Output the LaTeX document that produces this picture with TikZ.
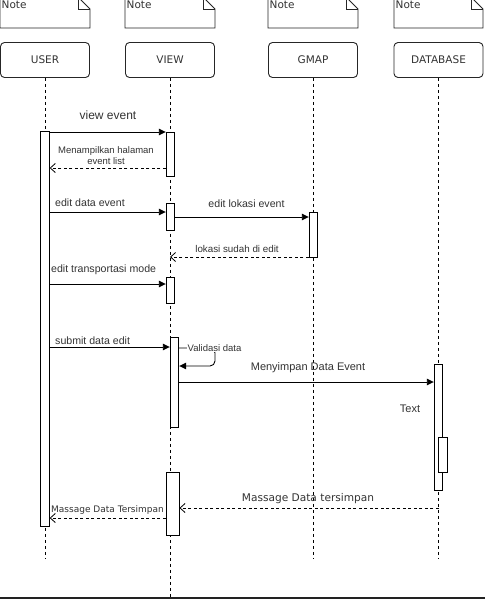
\documentclass[tikz,border=0pt]{standalone}
\usepackage{fontspec}
\setmainfont{Liberation Sans}
\newfontfamily\dvs{DejaVu Sans}
\usetikzlibrary{arrows.meta}
\definecolor{txt}{HTML}{333333}
\definecolor{band}{HTML}{222222}
\newcommand\fs[2]{\fontsize{#1}{#2}\selectfont}
\begin{document}
\begin{tikzpicture}[x=1pt,y=-1pt,
  actor/.style={draw=black!85, rounded corners=4pt, minimum width=89pt, minimum height=35pt,
     inner sep=0pt, font=\dvs\fs{10.5}{12}, text=txt, line width=0.9pt},
  act/.style={draw, fill=white, minimum width=8.5pt, inner sep=0pt, line width=0.9pt},
  life/.style={draw, line width=0.8pt, dash pattern=on 3pt off 3pt},
  msg/.style={draw, line width=0.9pt, -{Triangle[length=7pt,width=6.5pt]}},
  ret/.style={draw, line width=0.8pt, dash pattern=on 3pt off 2.5pt, -{Straight Barb[length=5pt,width=9pt,line width=0.8pt]}},
  lbl/.style={text=txt, inner sep=1pt},
  notepath/.style={draw=black!85, fill=white, line width=0.9pt}
]
\clip (0,0) rectangle (485,599);
\fill[white] (0,0) rectangle (485,599);

% notes
\foreach \l/\r/\n in {0/90/na,125/215/nb,268/358/nc,394/483/nd}{
  \path[notepath] (\l,-3) -- (\r-12,-3) -- (\r,9) -- (\r,28) -- (\l,28) -- cycle;
  \draw[black!85, line width=0.9pt] (\r-12,-3) -- (\r-12,9) -- (\r,9);
  \node[lbl, anchor=west, font=\dvs\fs{10.5}{12}] (\n) at (\l+0.5,5) {Note};
}

% actors
\node[actor] (user) at (45,60) {USER};
\node[actor] (view) at (170,60) {VIEW};
\node[actor] (gmap) at (313,60) {GMAP};
\node[actor] (db) at (438.5,60) {DATABASE};

% lifelines
\coordinate (userend) at (45,558);
\coordinate (viewend) at (170,597);
\coordinate (gmapend) at (313,558);
\coordinate (dbend) at (438.5,558);
\path[life] (user.south) -- (userend);
\path[life] (view.south) -- (viewend);
\path[life] (gmap.south) -- (gmapend);
\path[life] (db.south) -- (dbend);

% activations
\node[act, minimum height=395pt] (u1) at (45,328.5) {};
\node[act, minimum height=44pt] (v1) at (170.5,154) {};
\node[act, minimum height=27pt] (v2) at (170.5,216.5) {};
\node[act, minimum height=26pt] (v3) at (170.5,290) {};
\node[act, minimum height=90pt] (v4) at (174.5,382) {};
\node[act, minimum height=63pt, minimum width=13pt] (v5) at (172.5,503.5) {};
\node[act, minimum height=45pt] (g1) at (313.5,234.5) {};
\node[act, minimum height=126pt] (d1) at (438.5,427) {};
\node[act, minimum height=35pt] (d2) at (443,454.5) {};

% messages
\path[msg] (u1.east |- 0,132) -- (v1.west |- 0,132);
\node[lbl, font=\fs{12}{14}] (l1) at (108,115) {view event};

\path[ret] (v1.west |- 0,168) -- (u1.east |- 0,168);
\node[lbl, font=\fs{9.5}{11}, align=center] (l2) at (106,156) {Menampilkan halaman\\event list};

\path[msg] (u1.east |- 0,212) -- (v2.west |- 0,212);
\node[lbl, anchor=west, font=\fs{10.6}{12}] (l3) at (54,203) {edit data event};

\path[msg] (v2.east |- 0,217) -- (g1.west |- 0,217);
\node[lbl, font=\fs{10.6}{12}] (l4) at (246.5,204) {edit lokasi event};

\path[ret] (g1.west |- 0,257) -- (view.south |- 0,257);
\node[lbl, font=\fs{9.8}{11}] (l5) at (237,249) {lokasi sudah di edit};

\path[msg] (u1.east |- 0,284) -- (v3.west |- 0,284);
\node[lbl, anchor=west, font=\fs{10.6}{12}] (l6) at (50,270) {edit transportasi mode};

\path[msg] (u1.east |- 0,347) -- (v4.west |- 0,347);
\node[lbl, anchor=west, font=\fs{10.6}{12}] (l7) at (54,341) {submit data edit};

% self call
\draw[line width=0.9pt, rounded corners=5pt, -{Triangle[length=7pt,width=6.5pt]}]
   (v4.east |- 0,348) -- (215,348) -- (215,366) -- (v4.east |- 0,366);
\node[lbl, fill=white, font=\fs{9.5}{11}, inner sep=1pt] (l8) at (214.5,348) {Validasi data};

\path[msg] (v4.east |- 0,382) -- (d1.west |- 0,382);
\node[lbl, font=\fs{11}{13}] (l9) at (308,368) {Menyimpan Data Event};

\node[lbl, font=\fs{11}{13}] (l10) at (410,409) {Text};

\path[ret] (db.south |- 0,508) -- (v5.east |- 0,508);
\node[lbl, font=\dvs\fs{10.6}{13}] (l11) at (308,499) {Massage Data tersimpan};

\path[ret] (v5.west |- 0,518) -- (u1.east |- 0,518);
\node[lbl, font=\dvs\fs{9}{11}] (l12) at (107.5,510) {Massage Data Tersimpan};

% bottom band
\fill[band] (0,597) rectangle (485,600);
\end{tikzpicture}
\end{document}
